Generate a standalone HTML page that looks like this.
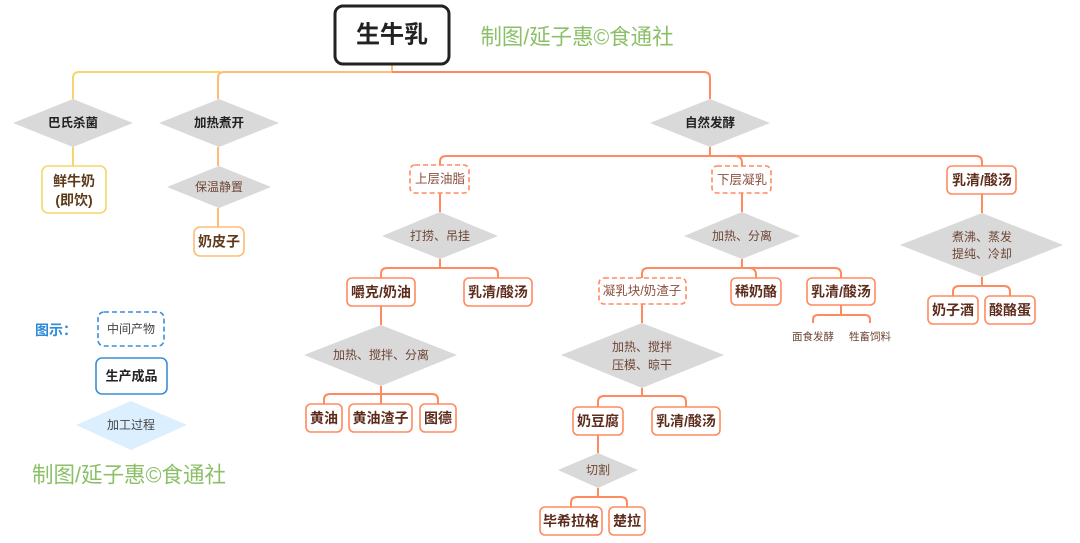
<!DOCTYPE html>
<html><head><meta charset="utf-8"><style>
html,body{margin:0;padding:0;background:#fff;}
svg{display:block;}
text{font-family:"Liberation Sans","Noto Sans CJK SC",sans-serif;dominant-baseline:central;text-anchor:middle;}
.b{font-size:14px;font-weight:bold;fill:#5e2c1c;}
.d{font-size:12.5px;fill:#8a4e3c;}
.p{font-size:12px;fill:#6e4636;}
.k{font-size:12.5px;font-weight:bold;fill:#222;}
.s{font-size:10.5px;fill:#6e4636;}
.c{fill:none;stroke:#ff8a5f;stroke-width:2;}
.box{fill:#fff;stroke:#ff8a5f;stroke-width:1.6;}
.dbox{fill:#fff;stroke:#ff8a5f;stroke-width:1.6;stroke-dasharray:5 3;}
.dia{fill:#d9d9d9;}
</style></head><body>
<svg width="1080" height="543" viewBox="0 0 1080 543" xmlns="http://www.w3.org/2000/svg">
<!-- top connectors -->
<path d="M73 99 V78 Q73 72 79 72 H220" fill="none" stroke="#f5d66b" stroke-width="2"/>
<path d="M218 99 V78 Q218 72 224 72 H392 V65" fill="none" stroke="#ffbb78" stroke-width="2"/>
<path class="c" d="M392 72 H704 Q710 72 710 78 V99"/>
<path d="M73 147 V166" fill="none" stroke="#f5d66b" stroke-width="2"/>
<path d="M218 147 V166 M218 208 V227" fill="none" stroke="#ffbb78" stroke-width="2"/>
<!-- 自然发酵 tree -->
<path class="c" d="M710 147 V156"/>
<path class="c" d="M440 165 V162 Q440 156 446 156 H976 Q982 156 982 162 V166"/>
<path class="c" d="M735 156 Q742 156 742 163 V166"/>
<path class="c" d="M440 193 V212 M440 259 V268"/>
<path class="c" d="M381 278 V274 Q381 268 387 268 H492 Q498 268 498 274 V278"/>
<path class="c" d="M381 306 V325 M381 386 V404"/>
<path class="c" d="M324 404 V400 Q324 394 330 394 H432 Q438 394 438 400 V404"/>
<path class="c" d="M742 193 V212 M742 259 V268"/>
<path class="c" d="M642 278 V274 Q642 268 648 268 H835 Q841 268 841 274 V278"/>
<path class="c" d="M749 268 Q756 268 756 275 V278"/>
<path class="c" d="M841 305 V315"/>
<path class="c" d="M813 323 V320 Q813 315 818 315 H865 Q870 315 870 320 V323"/>
<path class="c" d="M642 304 V323 M642 388 V396"/>
<path class="c" d="M598 407 V402 Q598 396 604 396 H680 Q686 396 686 402 V407"/>
<path class="c" d="M598 435 V453 M598 488 V497"/>
<path class="c" d="M571 507 V503 Q571 497 577 497 H621 Q627 497 627 503 V507"/>
<path class="c" d="M982 194 V213 M982 277 V286"/>
<path class="c" d="M953 296 V292 Q953 286 959 286 H1004 Q1010 286 1010 292 V296"/>

<!-- root -->
<rect x="335" y="6" width="114" height="58" rx="8" fill="#fff" stroke="#222" stroke-width="3"/>
<text x="392" y="35" style="font-size:24px;font-weight:bold;fill:#222;">生牛乳</text>
<text x="577" y="37" textLength="193" lengthAdjust="spacingAndGlyphs" style="font-size:22px;fill:#8cc068;">制图/延子惠©食通社</text>

<!-- diamonds -->
<polygon class="dia" points="13,123 73,99 133,123 73,147"/>
<text class="k" x="73" y="123">巴氏杀菌</text>
<polygon class="dia" points="159,123 219,99 279,123 219,147"/>
<text class="k" x="219" y="123">加热煮开</text>
<polygon class="dia" points="167,187 219,166 271,187 219,208"/>
<text class="p" x="219" y="187">保温静置</text>
<polygon class="dia" points="650,123 710,99 770,123 710,147"/>
<text class="k" x="710" y="123">自然发酵</text>
<polygon class="dia" points="382,236 440,212 498,236 440,259"/>
<text class="p" x="440" y="236">打捞、吊挂</text>
<polygon class="dia" points="304,355 381,325 457,355 381,386"/>
<text class="p" x="381" y="355">加热、搅拌、分离</text>
<polygon class="dia" points="684,236 742,212 800,236 742,259"/>
<text class="p" x="742" y="236">加热、分离</text>
<polygon class="dia" points="561,355 642,323 724,355 642,388"/>
<text class="p" x="642" y="347">加热、搅拌</text>
<text class="p" x="642" y="365">压模、晾干</text>
<polygon class="dia" points="558,470 598,453 638,470 598,488"/>
<text class="p" x="598" y="470">切割</text>
<polygon class="dia" points="900,245 982,213 1063,245 982,277"/>
<text class="p" x="982" y="237">煮沸、蒸发</text>
<text class="p" x="982" y="254">提纯、冷却</text>

<!-- yellow / light-orange boxes -->
<rect x="42" y="166" width="64" height="47" rx="6" fill="#fff" stroke="#f5d66b" stroke-width="1.6"/>
<text x="74" y="181" style="font-size:14px;font-weight:bold;fill:#5e3a1a;">鲜牛奶</text>
<text x="74" y="200" style="font-size:14px;font-weight:bold;fill:#5e3a1a;">(即饮)</text>
<rect x="194" y="227" width="50" height="29" rx="6" fill="#fff" stroke="#ffbb78" stroke-width="1.6"/>
<text x="219" y="241.5" style="font-size:14px;font-weight:bold;fill:#5e3a1a;">奶皮子</text>

<!-- dashed boxes -->
<rect class="dbox" x="410" y="165" width="59" height="28" rx="5"/>
<text class="d" x="440" y="179">上层油脂</text>
<rect class="dbox" x="712" y="166" width="59" height="27" rx="5"/>
<text class="d" x="742" y="180">下层凝乳</text>
<rect class="dbox" x="599" y="278" width="87" height="26" rx="5"/>
<text class="d" x="642" y="291">凝乳块/奶渣子</text>

<!-- solid boxes -->
<rect class="box" x="947" y="166" width="69" height="28" rx="5"/>
<text class="b" x="982" y="180">乳清/酸汤</text>
<rect class="box" x="347" y="278" width="68" height="28" rx="5"/>
<text class="b" x="381" y="292">嚼克/奶油</text>
<rect class="box" x="464" y="278" width="68" height="28" rx="5"/>
<text class="b" x="498" y="292">乳清/酸汤</text>
<rect class="box" x="306" y="404" width="36" height="28" rx="5"/>
<text class="b" x="324" y="418">黄油</text>
<rect class="box" x="349" y="404" width="63" height="28" rx="5"/>
<text class="b" x="380.5" y="418">黄油渣子</text>
<rect class="box" x="420" y="404" width="36" height="28" rx="5"/>
<text class="b" x="438" y="418">图德</text>
<rect class="box" x="731" y="278" width="50" height="27" rx="5"/>
<text class="b" x="756" y="291.5">稀奶酪</text>
<rect class="box" x="807" y="278" width="68" height="27" rx="5"/>
<text class="b" x="841" y="291.5">乳清/酸汤</text>
<text class="s" x="813" y="337">面食发酵</text>
<text class="s" x="870" y="337">牲畜饲料</text>
<rect class="box" x="573" y="407" width="50" height="28" rx="5"/>
<text class="b" x="598" y="421">奶豆腐</text>
<rect class="box" x="652" y="407" width="68" height="28" rx="5"/>
<text class="b" x="686" y="421">乳清/酸汤</text>
<rect class="box" x="540" y="507" width="62" height="28" rx="5"/>
<text class="b" x="571" y="521">毕希拉格</text>
<rect class="box" x="609" y="507" width="36" height="28" rx="5"/>
<text class="b" x="627" y="521">楚拉</text>
<rect class="box" x="928" y="296" width="50" height="28" rx="5"/>
<text class="b" x="953" y="310">奶子酒</text>
<rect class="box" x="985" y="296" width="50" height="28" rx="5"/>
<text class="b" x="1010" y="310">酸酪蛋</text>

<!-- legend -->
<text x="56" y="330" style="font-size:14px;font-weight:bold;fill:#2f8ad8;">图示：</text>
<rect x="98" y="312" width="66" height="34" rx="6" fill="#fff" stroke="#3a8fd8" stroke-width="1.6" stroke-dasharray="5 3"/>
<text x="131" y="329" style="font-size:12px;fill:#444;">中间产物</text>
<rect x="96" y="358" width="71" height="36" rx="6" fill="#fff" stroke="#3a8fd8" stroke-width="1.6"/>
<text x="131.5" y="376" style="font-size:13px;font-weight:bold;fill:#222;">生产成品</text>
<polygon points="76,425 131,401 187,425 131,450" fill="#dcefff"/>
<text x="131" y="425" style="font-size:12px;fill:#444;">加工过程</text>
<text x="129" y="475" textLength="194" lengthAdjust="spacingAndGlyphs" style="font-size:22px;fill:#8cc068;">制图/延子惠©食通社</text>
</svg>
</body></html>
